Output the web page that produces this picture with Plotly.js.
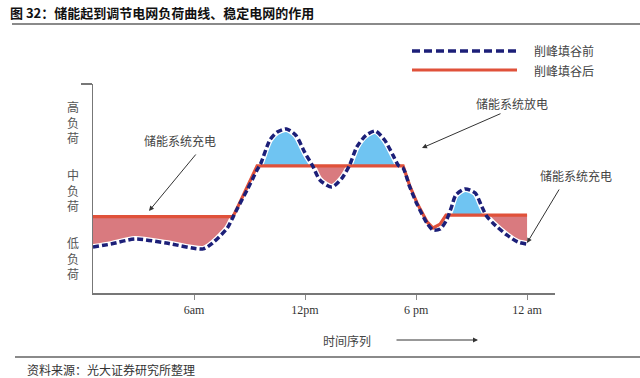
<!DOCTYPE html>
<html>
<head>
<meta charset="utf-8">
<script src="https://cdn.plot.ly/plotly-3.0.1.min.js"></script>
<style>html,body{margin:0;padding:0;background:#fff;}#chart{width:640px;height:378px;}</style>
</head>
<body>
<div id="chart"></div>
<script>
// ---- data (hours of day, relative load index 0-100) ----
const hours = [0.54, 1.5, 2.8, 4.5, 6.5, 7.0, 7.8, 8.1, 8.3, 8.9, 9.41, 9.6, 10.1, 10.5, 11.0, 11.5, 12.0, 12.4, 12.8, 13.45, 14.0, 14.4, 14.8, 15.3, 15.8, 16.3, 16.75, 17.05, 17.3, 17.65, 18.05, 18.6, 18.92, 19.3, 19.62, 19.9, 20.15, 20.65, 21.2, 21.55, 21.8, 22.15, 22.9, 23.5, 24.0];
const loadBefore = [22.0, 23.4, 25.8, 23.9, 21.1, 23.9, 31.1, 36.2, 39.7, 49.8, 58.9, 61.8, 73.2, 77.0, 78.5, 75.5, 67.0, 61.0, 54.1, 50.7, 55.0, 61.0, 69.9, 75.5, 77.5, 73.2, 66.0, 61.0, 59.8, 51.0, 42.6, 33.3, 30.1, 30.6, 34.4, 40.7, 46.9, 49.8, 47.8, 41.4, 37.0, 33.5, 27.8, 24.4, 23.4];
const loadAfter = [36.5, 36.5, 36.5, 36.5, 36.5, 36.5, 36.5, 36.5, 40.0, 51.2, 60.8, 60.8, 60.8, 60.8, 60.8, 60.8, 60.8, 60.8, 60.8, 60.8, 60.8, 60.8, 60.8, 60.8, 60.8, 60.8, 60.8, 60.8, 60.8, 51.5, 43.1, 34.0, 31.1, 33.0, 37.3, 37.3, 37.3, 37.3, 37.3, 37.3, 37.3, 37.3, 37.3, 37.3, 37.3];
const tickHours = [6, 12, 18, 24];
const tickLabels = ['6am', '12pm', '6 pm', '12 am'];
const seriesNames = ['削峰填谷前', '削峰填谷后'];
const yLevelLabels = ['高<br>负<br>荷', '中<br>负<br>荷', '低<br>负<br>荷'];
const titleText = '图 32：储能起到调节电网负荷曲线、稳定电网的作用';
const sourceText = '资料来源：光大证券研究所整理';
const noteCharge = '储能系统充电';
const noteDischarge = '储能系统放电';
const xTitleText = '时间序列';

// ---- fill geometry: split region between the two lines at their crossings ----
const fx = [], fr = [], fmax = [], fmin = [];
for (let i = 0; i < hours.length; i++) {
  const b = loadBefore[i], r = loadAfter[i];
  fx.push(hours[i]); fr.push(r); fmax.push(Math.max(b, r)); fmin.push(Math.min(b, r));
  if (i < hours.length - 1) {
    const d0 = b - r, d1 = loadBefore[i + 1] - loadAfter[i + 1];
    if (d0 * d1 < 0) {
      const t = d0 / (d0 - d1);
      const xc = hours[i] + t * (hours[i + 1] - hours[i]);
      const yc = r + t * (loadAfter[i + 1] - r);
      fx.push(xc); fr.push(yc); fmax.push(yc); fmin.push(yc);
    }
  }
}

const NAVY = '#1c1f78', RED = '#e0513a', BLUEFILL = '#6fc4f2', PINKFILL = '#d97a7f';
const CJK = '"Noto Sans CJK SC", "Noto Sans", sans-serif';

const traces = [
  {x: fx, y: fr, mode: 'lines', line: {width: 0, color: RED}, hoverinfo: 'skip', showlegend: false},
  {x: fx, y: fmax, mode: 'lines', fill: 'tonexty', fillcolor: BLUEFILL, line: {width: 0, color: BLUEFILL}, hoverinfo: 'skip', showlegend: false},
  {x: fx, y: fr, mode: 'lines', line: {width: 0, color: RED}, hoverinfo: 'skip', showlegend: false},
  {x: fx, y: fmin, mode: 'lines', fill: 'tonexty', fillcolor: PINKFILL, line: {width: 0, color: PINKFILL}, hoverinfo: 'skip', showlegend: false},
  {x: hours, y: loadBefore, mode: 'lines', line: {color: '#ffffff', width: 6, shape: 'spline', smoothing: 0.7}, hoverinfo: 'skip', showlegend: false},
  {x: hours, y: loadAfter, mode: 'lines', name: seriesNames[1], line: {color: RED, width: 3.2}, showlegend: false},
  {x: hours, y: loadBefore, mode: 'lines', name: seriesNames[0], line: {color: NAVY, width: 3.5, dash: '6px,3px', shape: 'spline', smoothing: 0.7}, showlegend: false}
];

// pixel -> paper helpers (plot area 93..555 x 84..293)
const L = 93, R = 555, T = 84, B = 293;
const px = v => (v - L) / (R - L);
const py = v => (B - v) / (B - T);

const txt = (text, x, y, opts) => Object.assign({
  text: text, xref: 'paper', yref: 'paper', x: px(x), y: py(y), showarrow: false,
  xanchor: 'center', yanchor: 'middle', font: {family: CJK, size: 12, color: '#444'}
}, opts || {});
const arrow = (tipX, tipY, tailX, tailY) => ({
  text: '', xref: 'paper', yref: 'paper', x: px(tipX), y: py(tipY), showarrow: true,
  ax: tailX - tipX, ay: tailY - tipY, arrowhead: 2, arrowsize: 1, arrowwidth: 1, arrowcolor: '#333'
});

const annotations = [
  txt(titleText, 8, 12, {xanchor: 'left', font: {family: CJK, size: 13, color: '#111', weight: 'bold'}}),
  txt(sourceText, 25, 369, {xanchor: 'left', font: {family: CJK, size: 12, color: '#333'}}),
  txt(seriesNames[0], 532, 51, {xanchor: 'left'}),
  txt(seriesNames[1], 532, 70, {xanchor: 'left'}),
  txt(yLevelLabels[0], 73, 122, {font: {family: CJK, size: 12, color: '#555'}}),
  txt(yLevelLabels[1], 73, 190, {font: {family: CJK, size: 12, color: '#555'}}),
  txt(yLevelLabels[2], 73, 258, {font: {family: CJK, size: 12, color: '#555'}}),
  txt(noteCharge, 180, 140),
  txt(noteDischarge, 512, 103),
  txt(noteCharge, 576, 175),
  txt(xTitleText, 347, 340),
  arrow(149, 211, 197, 153),
  arrow(422, 148, 502, 113),
  arrow(527, 243, 560, 188),
  arrow(478, 340, 395, 340)
];

const shapes = [
  {type: 'line', xref: 'paper', yref: 'paper', x0: px(12), x1: px(640), y0: py(24), y1: py(24), line: {color: '#8a8a8a', width: 2}},
  {type: 'line', xref: 'paper', yref: 'paper', x0: px(15), x1: px(640), y0: py(357), y1: py(357), line: {color: '#8a8a8a', width: 2}},
  {type: 'line', xref: 'paper', yref: 'paper', x0: px(412), x1: px(517), y0: py(51), y1: py(51), line: {color: NAVY, width: 3.5, dash: '8px,4px'}},
  {type: 'line', xref: 'paper', yref: 'paper', x0: px(412), x1: px(517), y0: py(70), y1: py(70), line: {color: RED, width: 3.2}}
];

const layout = {
  width: 640, height: 378,
  margin: {l: L, r: 640 - R, t: T, b: 378 - B, pad: 0},
  paper_bgcolor: '#fff', plot_bgcolor: '#fff',
  showlegend: false,
  xaxis: {
    range: [0.54, 25.51], tickvals: tickHours, ticktext: tickLabels,
    ticks: 'outside', ticklen: 5, tickwidth: 1, tickcolor: '#888',
    showline: true, linecolor: '#777', linewidth: 1.5, showgrid: false, zeroline: false,
    tickfont: {family: '"Liberation Serif", serif', size: 12, color: '#333'}, fixedrange: true
  },
  yaxis: {
    range: [0, 100], tickvals: [100], showticklabels: false,
    ticks: 'outside', ticklen: 11, tickwidth: 1.5, tickcolor: '#777',
    showline: true, linecolor: '#777', linewidth: 1.5, showgrid: false, zeroline: false, fixedrange: true
  },
  annotations: annotations,
  shapes: shapes
};

Plotly.newPlot('chart', traces, layout, {displayModeBar: false, staticPlot: true});
</script>
</body>
</html>
